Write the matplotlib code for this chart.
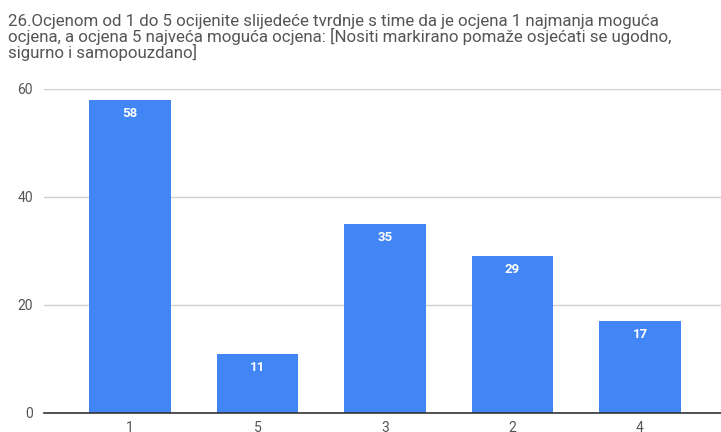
import matplotlib.pyplot as plt

# data
categories = ['1', '5', '3', '2', '4']
counts = [58, 11, 35, 29, 17]
y_ticks = [0, 20, 40, 60]
title = ('26.Ocjenom od 1 do 5 ocijenite slijedeće tvrdnje s time da je ocjena 1 najmanja moguća\n'
         'ocjena, a ocjena 5 najveća moguća ocjena: [Nositi markirano pomaže osjećati se ugodno,\n'
         'sigurno i samopouzdano]')

plt.rcParams['font.family'] = ['Roboto', 'DejaVu Sans']

fig = plt.figure(figsize=(7.21, 4.32), dpi=100)
ax = fig.add_axes([0.061, 0.044, 0.939, 0.75])

x = range(len(categories))
bars = ax.bar(x, counts, width=0.64, color='#4285F4', zorder=2)

# value labels inside the top of each bar
for b, v in zip(bars, counts):
    ax.annotate(str(v), (b.get_x() + b.get_width() / 2, v), xytext=(0, -5),
                textcoords='offset points', ha='center', va='top',
                color='white', fontsize=9.5, fontweight='bold')

ax.set_xlim(-0.675, 4.635)
ax.set_ylim(0, 60)
ax.set_yticks(y_ticks)
ax.set_xticks(list(x))
ax.set_xticklabels(categories)
ax.tick_params(axis='both', length=0, colors='#555555', labelsize=10)
ax.tick_params(axis='y', pad=8)
ax.tick_params(axis='x', pad=6)
ax.grid(axis='y', color='#d0d0d0', linewidth=1, zorder=0)
for s in ['top', 'right', 'left']:
    ax.spines[s].set_visible(False)
ax.spines['bottom'].set_color('#333333')
ax.spines['bottom'].set_linewidth(1.2)
ax.spines['bottom'].set_zorder(3)

fig.text(0.011, 0.968, title, ha='left', va='top', fontsize=12.2,
         color='#555555', linespacing=0.95)

fig.savefig('out.png', dpi=100)
